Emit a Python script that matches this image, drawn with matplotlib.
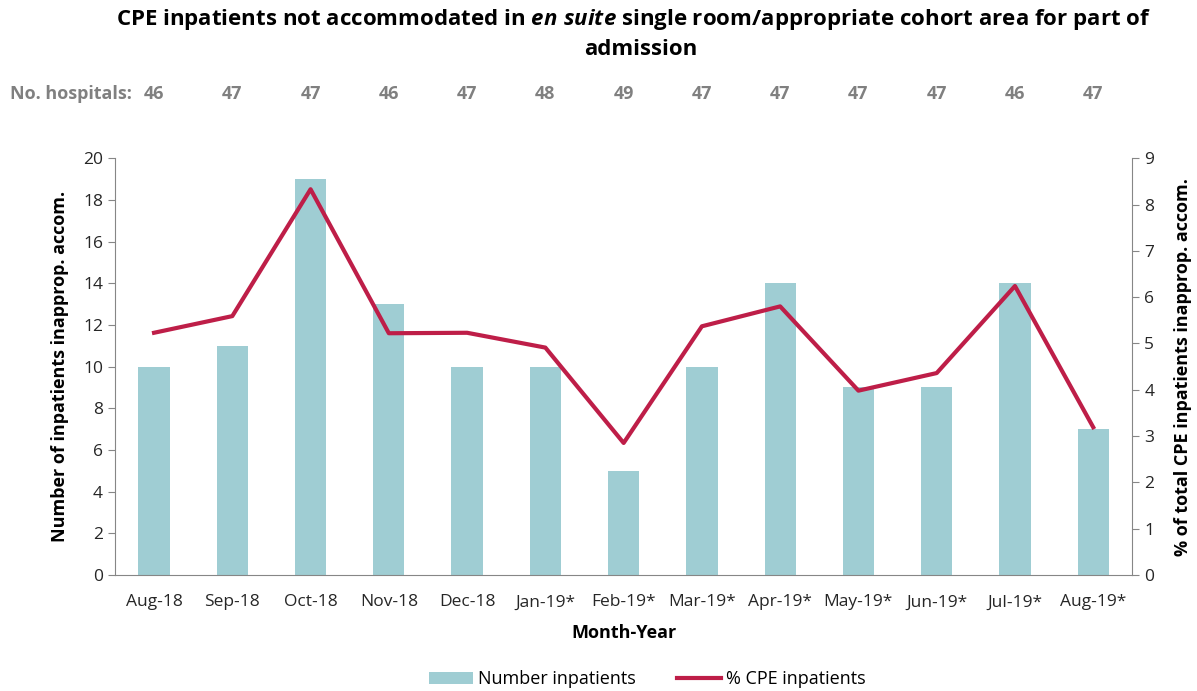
import matplotlib.pyplot as plt
from matplotlib.lines import Line2D
from matplotlib.patches import Patch
import matplotlib.transforms as mtransforms

plt.rcParams['font.family'] = ['Open Sans', 'DejaVu Sans']
plt.rcParams['mathtext.fontset'] = 'custom'
plt.rcParams['mathtext.it'] = 'Open Sans:italic:bold'
plt.rcParams['mathtext.rm'] = 'Open Sans:bold'

months = ['Aug-18', 'Sep-18', 'Oct-18', 'Nov-18', 'Dec-18', 'Jan-19*', 'Feb-19*',
          'Mar-19*', 'Apr-19*', 'May-19*', 'Jun-19*', 'Jul-19*', 'Aug-19*']
num_inpatients = [10, 11, 19, 13, 10, 10, 5, 10, 14, 9, 9, 14, 7]
pct_cpe = [5.23, 5.59, 8.33, 5.22, 5.23, 4.91, 2.85, 5.37, 5.80, 3.98, 4.36, 6.24, 3.19]
hospitals = [46, 47, 47, 46, 47, 48, 49, 47, 47, 47, 47, 46, 47]

bar_col = '#9FCDD3'
line_col = '#BE1E48'
grey = '#868686'

fig = plt.figure(figsize=(11.97, 6.91), dpi=100)
ax = fig.add_axes([0.096, 0.168, 0.85, 0.603])
ax2 = ax.twinx()

x = list(range(len(months)))
ax.bar(x, num_inpatients, width=0.4, color=bar_col, zorder=2)
ax2.plot(x, pct_cpe, color=line_col, lw=3, zorder=3)

ax.set_xlim(-0.5, len(months) - 0.5)
ax.set_ylim(0, 20)
ax.set_yticks(range(0, 21, 2))
ax2.set_ylim(0, 9)
ax2.set_yticks(range(0, 10))
ax.set_xticks(x)
ax.set_xticklabels(months)

for a in (ax, ax2):
    for s in a.spines.values():
        s.set_visible(False)
    a.tick_params(axis='both', labelsize=12.5, colors='#262626', length=5, color=grey)
ax.spines['left'].set_visible(True)
ax.spines['left'].set_color(grey)
ax.spines['bottom'].set_visible(True)
ax.spines['bottom'].set_color(grey)
ax2.spines['right'].set_visible(True)
ax2.spines['right'].set_color(grey)
ax.tick_params(axis='x', length=0, pad=14)

ax.set_ylabel('Number of inpatients inapprop. accom.', fontsize=13, fontweight='bold', labelpad=10)
ax2.set_ylabel('% of total CPE inpatients inapprop. accom.', fontsize=13, fontweight='bold', labelpad=14)
ax.set_xlabel('Month-Year', fontsize=13, fontweight='bold', labelpad=10)

# title with italic "en suite"
fig.text(0.529, 0.99, r'CPE inpatients not accommodated in $\mathit{en\ suite}$ single room/appropriate cohort area for part of',
         ha='center', va='top', fontsize=16, fontweight='bold')
fig.text(0.535, 0.943, 'admission', ha='center', va='top', fontsize=16, fontweight='bold')

# hospital counts row
trans = mtransforms.blended_transform_factory(ax.transData, fig.transFigure)
fig.text(0.008, 0.864, 'No. hospitals:', ha='left', va='center', fontsize=13, fontweight='bold', color='#808080')
for xi, h in zip(x, hospitals):
    ax.text(xi, 0.864, str(h), transform=trans, ha='center', va='center', fontsize=13,
            fontweight='bold', color='#808080')

handles = [Patch(facecolor=bar_col, label='Number inpatients'),
           Line2D([0], [0], color=line_col, lw=3, label='% CPE inpatients')]
fig.legend(handles=handles, loc='center', bbox_to_anchor=(0.541, 0.017), ncol=2, frameon=False,
           fontsize=13, handlelength=2.4, columnspacing=2.3, handletextpad=0.3)

fig.savefig('out.png', dpi=100)
